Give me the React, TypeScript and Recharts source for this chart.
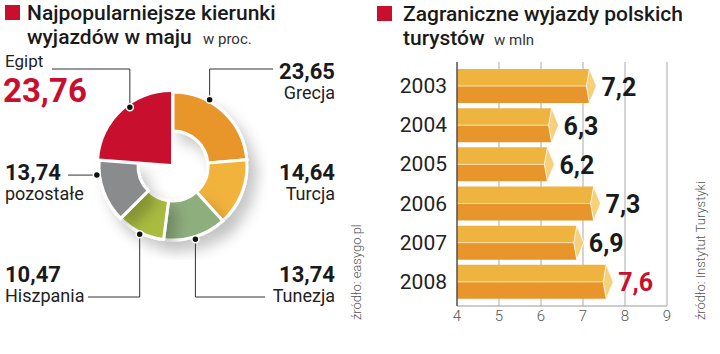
import { PieChart, Pie, Cell, BarChart, Bar, XAxis, YAxis, CartesianGrid, LabelList } from 'recharts';

// left: directions in May, % of trips
const DESTINATIONS = ['Grecja', 'Turcja', 'Tunezja', 'Hiszpania', 'pozostałe', 'Egipt'];
const SHARES = [23.65, 14.64, 13.74, 10.47, 13.74, 23.76];
const SLICE_COLORS = ['#e8962a', '#f2b33d', '#8fae7e', '#a9bc3f', '#8a8b8d', '#c8102e'];

// right: foreign trips of Polish tourists, mln
const YEARS = ['2003', '2004', '2005', '2006', '2007', '2008'];
const TRIPS = [7.2, 6.3, 6.2, 7.3, 6.9, 7.6];
const X_TICKS = [4, 5, 6, 7, 8, 9];

const RED = '#c8102e';
const FONT = 'Roboto, "Noto Sans", sans-serif';

const pieData = DESTINATIONS.map((name, i) => ({ name, value: SHARES[i] }));
const barData = YEARS.map((year, i) => ({ year, value: TRIPS[i] }));

const fmt = (v: number) => String(v).replace('.', ',');

// where each slice's callout sits (angle clockwise from 12 o'clock)
const CALLOUTS: Record<string, { angle: number; r: number; lineY?: number; endX: number; tx: number; anchor: 'start' | 'end'; numY: number; nameY: number }> = {
  Grecja: { angle: 31, r: 75, lineY: 69, endX: 273, tx: 335, anchor: 'end', numY: 79, nameY: 99 },
  Turcja: { angle: -1, r: 0, endX: 0, tx: 335, anchor: 'end', numY: 180, nameY: 200 },
  Tunezja: { angle: 162, r: 79, lineY: 297, endX: 265, tx: 335, anchor: 'end', numY: 282, nameY: 302 },
  Hiszpania: { angle: 204, r: 77, lineY: 297, endX: 88, tx: 5, anchor: 'start', numY: 282, nameY: 302 },
  pozostałe: { angle: 261.5, r: 75, endX: 68, tx: 5, anchor: 'start', numY: 180, nameY: 200 },
  Egipt: { angle: 324, r: 70, lineY: 69, endX: 52, tx: 5, anchor: 'start', numY: 102, nameY: 67 },
};

function renderCallout(props: any) {
  const { cx, cy, index } = props;
  const name = DESTINATIONS[index];
  const value = SHARES[index];
  const c = CALLOUTS[name];
  const isEgypt = name === 'Egipt';
  let line = null;
  if (c.r > 0) {
    const a = (c.angle * Math.PI) / 180;
    const dx = cx + c.r * Math.sin(a);
    const dy = cy - c.r * Math.cos(a);
    const pts = c.lineY !== undefined
      ? `${dx},${dy} ${dx},${c.lineY} ${c.endX},${c.lineY}`
      : `${dx},${dy} ${c.endX},${dy}`;
    line = (
      <g>
        <polyline points={pts} fill="none" stroke="#333" strokeWidth={1} />
        <circle cx={dx} cy={dy} r={3.5} fill="#111" stroke="#fff" strokeWidth={1.5} />
      </g>
    );
  }
  return (
    <g key={name}>
      {line}
      {isEgypt ? (
        <>
          <text x={c.tx} y={c.nameY} fontSize={17} fill="#222" fontFamily={FONT}>{name}</text>
          <text x={c.tx - 2} y={c.numY} fontSize={33} fontWeight={700} fill={RED} fontFamily={FONT}>{fmt(value)}</text>
        </>
      ) : (
        <>
          <text x={c.tx} y={c.numY} textAnchor={c.anchor} fontSize={22} fontWeight={700} fill="#1a1a1a" fontFamily={FONT}>{fmt(value)}</text>
          <text x={c.tx} y={c.nameY} textAnchor={c.anchor} fontSize={18} fill="#222" fontFamily={FONT}>{name}</text>
        </>
      )}
    </g>
  );
}

function PrismBar(props: any) {
  const { x, y, width, height } = props;
  if (width == null || height == null) return null;
  const cy = y + height / 2;
  const x0 = x - 2;
  const xe = x + width - 2;
  return (
    <g>
      <polygon points={`${x0},${y} ${xe},${y} ${xe - 3},${cy} ${x - 6},${cy}`} fill="#efb33f" />
      <polygon points={`${x - 6},${cy} ${xe - 3},${cy} ${xe},${y + height} ${x0},${y + height}`} fill="#e8962b" />
      <line x1={x - 5} y1={cy} x2={xe - 3} y2={cy} stroke="#fbe3b0" strokeWidth={1} />
      <polygon points={`${xe},${y} ${xe + 7},${cy} ${xe},${y + height} ${xe - 3},${cy}`} fill="#f6d07a" stroke="#fff" strokeWidth={0.8} />
    </g>
  );
}

function BarValue(props: any) {
  const { x, y, width, height, value, index } = props;
  return (
    <text
      x={x + width + 10}
      y={y + height / 2 + 1}
      dominantBaseline="central"
      fontSize={25}
      fontWeight={700}
      fill={index === YEARS.length - 1 ? RED : '#1a1a1a'}
      fontFamily={FONT}
    >
      {fmt(value)}
    </text>
  );
}

export default function App() {
  return (
    <div style={{ position: 'absolute', left: 0, top: 0, width: 720, height: 354, background: '#fff', fontFamily: FONT }}>
      <svg width={720} height={354} style={{ position: 'absolute', left: 0, top: 0 }}>
        <rect x={5} y={5} width={15} height={15} fill={RED} />
        <text x={27} y={20} fontSize={21} fontWeight={500} fill="#1a1a1a">Najpopularniejsze kierunki</text>
        <text x={27} y={44} fontSize={21} fontWeight={500} fill="#1a1a1a">wyjazdów w maju</text>
        <text x={203} y={44} fontSize={15} fill="#333">w proc.</text>

        <rect x={377} y={6} width={15} height={15} fill={RED} />
        <text x={403} y={21} fontSize={21} fontWeight={500} fill="#1a1a1a">Zagraniczne wyjazdy polskich</text>
        <text x={403} y={45} fontSize={21} fontWeight={500} fill="#1a1a1a">turystów</text>
        <text x={494} y={45} fontSize={15} fill="#333">w mln</text>

        <text transform="translate(361,320) rotate(-90)" fontSize={13} fontWeight={300} fill="#555">źródło: easygo.pl</text>
        <text transform="translate(705,320) rotate(-90)" fontSize={13} fontWeight={300} fill="#555">źródło: Instytut Turystyki</text>
      </svg>

      <div style={{ position: 'absolute', left: 0, top: 0 }}>
        <PieChart width={345} height={354} margin={{ top: 0, right: 0, bottom: 0, left: 0 }}>
          <defs>
            <filter id="ringShadow" x="-30%" y="-30%" width="170%" height="170%">
              <feDropShadow dx={8} dy={10} stdDeviation={7} floodColor="#000" floodOpacity={0.22} />
            </filter>
          </defs>
          <Pie
            data={pieData}
            dataKey="value"
            nameKey="name"
            cx={173}
            cy={166}
            innerRadius={35}
            outerRadius={74}
            startAngle={90}
            endAngle={-270}
            stroke="#fff"
            strokeWidth={3}
            isAnimationActive={false}
            style={{ filter: 'url(#ringShadow)' }}
          >
            {pieData.map((d, i) => (
              <Cell key={d.name} fill={d.name === 'Egipt' ? 'none' : SLICE_COLORS[i]} stroke={d.name === 'Egipt' ? 'none' : '#fff'} />
            ))}
          </Pie>
          <Pie
            data={pieData}
            dataKey="value"
            nameKey="name"
            cx={171}
            cy={164}
            innerRadius={0}
            outerRadius={72}
            startAngle={90}
            endAngle={-270}
            stroke="#fff"
            strokeWidth={2}
            isAnimationActive={false}
            label={renderCallout}
            labelLine={false}
          >
            {pieData.map((d, i) => (
              <Cell key={d.name} fill={d.name === 'Egipt' ? SLICE_COLORS[i] : 'none'} stroke="none" />
            ))}
          </Pie>
        </PieChart>
      </div>

      <div style={{ position: 'absolute', left: 360, top: 0 }}>
        <BarChart
          width={360}
          height={354}
          data={barData}
          layout="vertical"
          margin={{ top: 62, right: 53, bottom: 18, left: 0 }}
        >
          <CartesianGrid horizontal={false} stroke="#aaa" />
          <XAxis
            type="number"
            domain={[4, 9]}
            ticks={X_TICKS}
            allowDataOverflow
            height={30}
            axisLine={{ stroke: '#999' }}
            tickLine={false}
            tickMargin={-2}
            tick={{ fill: '#555', fontSize: 15, fontWeight: 300, fontFamily: FONT }}
          />
          <YAxis
            type="category"
            dataKey="year"
            width={97}
            padding={{ top: 4, bottom: 5 }}
            axisLine={{ stroke: '#222' }}
            tickLine={false}
            tickMargin={4}
            tick={{ fill: '#222', fontSize: 21, fontFamily: FONT }}
          />
          <Bar dataKey="value" barSize={34} shape={PrismBar} isAnimationActive={false}>
            <LabelList dataKey="value" content={BarValue} />
          </Bar>
        </BarChart>
      </div>
    </div>
  );
}
